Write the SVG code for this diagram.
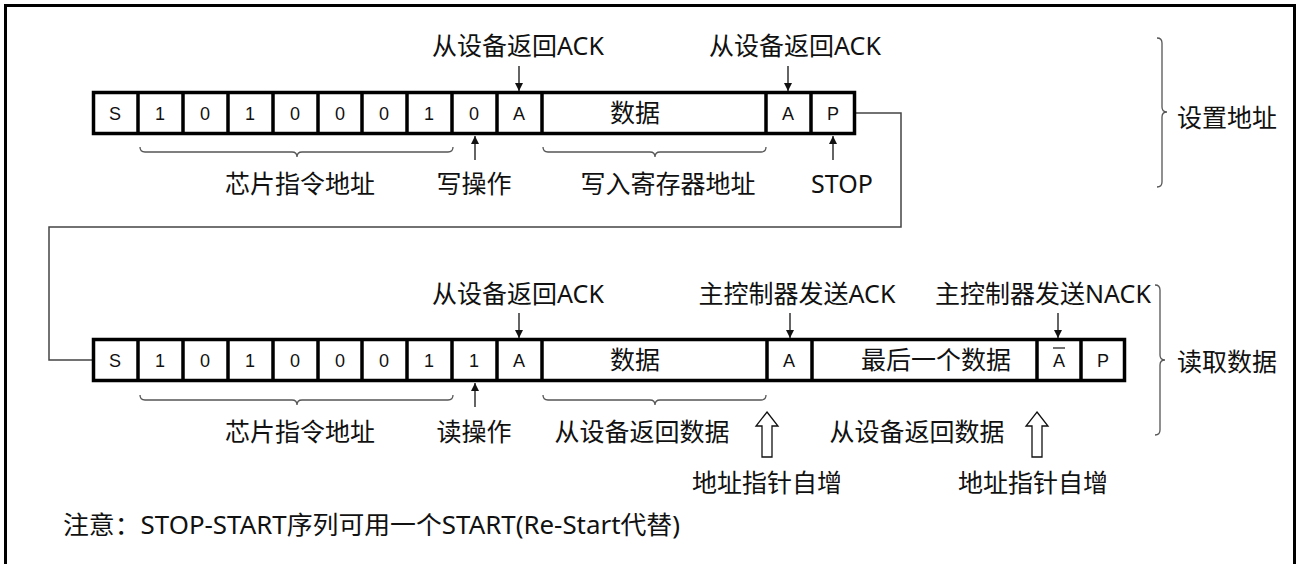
<svg xmlns="http://www.w3.org/2000/svg" width="1298" height="564" viewBox="0 0 1298 564">
<defs>
<marker id="ah" viewBox="0 0 8 10" refX="8" refY="5" markerWidth="8" markerHeight="10" markerUnits="userSpaceOnUse" orient="auto">
<path d="M0,1 L8,5 L0,9 Z" fill="#111"/>
</marker>
</defs>
<style>
.frame{fill:#fff;stroke:#000;stroke-width:3.5}
.sep{stroke:#000;stroke-width:3.5}
.bit{font-family:"Liberation Sans",Arial,sans-serif;font-size:18px;fill:#111;text-anchor:middle}
.lbl{font-family:"Noto Sans","Noto Sans CJK SC",sans-serif;font-size:25px;fill:#111;text-anchor:middle}
.lbl-l{font-family:"Noto Sans","Noto Sans CJK SC",sans-serif;font-size:25px;fill:#111}
.arr{stroke:#111;stroke-width:1.3;fill:none}
.brace{stroke:#555;stroke-width:1.3;fill:none}
.conn{stroke:#444;stroke-width:1.5;fill:none}
.hollow{fill:#fff;stroke:#111;stroke-width:1.3}
</style>
<rect x="5.5" y="5.5" width="1289" height="570" fill="#fff" stroke="#000" stroke-width="3"/>

<g id="connectors">
<polyline class="conn" points="856,113 901,113 901,227 49,227 49,360 92,360"/>
</g>

<g id="row1">
<rect class="frame" x="93.5" y="92.5" width="761" height="41"/>
<path class="sep" d="M138,92V134M183,92V134M228,92V134M273,92V134M318,92V134M362,92V134M407,92V134M452,92V134M497,92V134M542,92V134M766,92V134M811,92V134"/>
<text class="bit" x="115" y="120">S</text>
<text class="bit" x="160" y="120">1</text>
<text class="bit" x="205" y="120">0</text>
<text class="bit" x="250" y="120">1</text>
<text class="bit" x="295" y="120">0</text>
<text class="bit" x="340" y="120">0</text>
<text class="bit" x="384" y="120">0</text>
<text class="bit" x="429" y="120">1</text>
<text class="bit" x="474" y="120">0</text>
<text class="bit" x="519" y="120">A</text>
<text class="lbl" x="635" y="122">数据</text>
<text class="bit" x="788" y="120">A</text>
<text class="bit" x="833" y="120">P</text>
</g>

<g id="row1-labels">
<text class="lbl" x="518" y="55">从设备返回ACK</text>
<line class="arr" x1="519" y1="66" x2="519" y2="91" marker-end="url(#ah)"/>
<text class="lbl" x="795" y="55">从设备返回ACK</text>
<line class="arr" x1="788" y1="66" x2="788" y2="91" marker-end="url(#ah)"/>
<path class="brace" d="M140,147 Q140,152 145,152 L292,152 Q297,152 297,157 Q297,152 302,152 L448,152 Q453,152 453,147"/>
<path class="brace" d="M543,147 Q543,152 548,152 L650,152 Q655,152 655,157 Q655,152 660,152 L761,152 Q766,152 766,147"/>
<line class="arr" x1="475" y1="160" x2="475" y2="136" marker-end="url(#ah)"/>
<line class="arr" x1="833" y1="160" x2="833" y2="136" marker-end="url(#ah)"/>
<text class="lbl" x="300" y="193">芯片指令地址</text>
<text class="lbl" x="474" y="193">写操作</text>
<text class="lbl" x="668" y="193">写入寄存器地址</text>
<text class="lbl" x="842" y="193">STOP</text>
</g>

<g id="group-set-address">
<path class="brace" d="M1157,38 Q1162,38 1162,43 L1162,107 Q1162,112 1167,112 Q1162,112 1162,117 L1162,182 Q1162,187 1157,187"/>
<text class="lbl-l" x="1177" y="127">设置地址</text>
</g>

<g id="row2">
<rect class="frame" x="93.5" y="339.5" width="1031" height="41"/>
<path class="sep" d="M138,339V381M183,339V381M228,339V381M273,339V381M318,339V381M362,339V381M407,339V381M452,339V381M497,339V381M542,339V381M767,339V381M812,339V381M1037,339V381M1081,339V381"/>
<text class="bit" x="115" y="367">S</text>
<text class="bit" x="160" y="367">1</text>
<text class="bit" x="205" y="367">0</text>
<text class="bit" x="250" y="367">1</text>
<text class="bit" x="295" y="367">0</text>
<text class="bit" x="340" y="367">0</text>
<text class="bit" x="384" y="367">0</text>
<text class="bit" x="429" y="367">1</text>
<text class="bit" x="474" y="367">1</text>
<text class="bit" x="519" y="367">A</text>
<text class="lbl" x="635" y="369">数据</text>
<text class="bit" x="789" y="367">A</text>
<text class="lbl" x="936" y="369">最后一个数据</text>
<text class="bit" x="1059" y="367">A</text>
<line x1="1053" y1="348" x2="1065" y2="348" stroke="#111" stroke-width="1.2"/>
<text class="bit" x="1103" y="367">P</text>
</g>

<g id="row2-labels">
<text class="lbl" x="518" y="303">从设备返回ACK</text>
<line class="arr" x1="519" y1="313" x2="519" y2="338" marker-end="url(#ah)"/>
<text class="lbl" x="797" y="303">主控制器发送ACK</text>
<line class="arr" x1="790" y1="313" x2="790" y2="338" marker-end="url(#ah)"/>
<text class="lbl" x="1043" y="303">主控制器发送NACK</text>
<line class="arr" x1="1058" y1="313" x2="1058" y2="338" marker-end="url(#ah)"/>
<path class="brace" d="M140,395 Q140,400 145,400 L292,400 Q297,400 297,405 Q297,400 302,400 L448,400 Q453,400 453,395"/>
<path class="brace" d="M543,395 Q543,400 548,400 L650,400 Q655,400 655,405 Q655,400 660,400 L761,400 Q766,400 766,395"/>
<line class="arr" x1="475" y1="407" x2="475" y2="383" marker-end="url(#ah)"/>
<text class="lbl" x="300" y="441">芯片指令地址</text>
<text class="lbl" x="474" y="441">读操作</text>
<text class="lbl" x="642" y="441">从设备返回数据</text>
<text class="lbl" x="917" y="441">从设备返回数据</text>
<polygon class="hollow" points="767,412 778,426 772,426 772,457 762,457 762,426 756,426"/>
<polygon class="hollow" points="1037,412 1048,426 1042,426 1042,457 1032,457 1032,426 1026,426"/>
<text class="lbl" x="767" y="492">地址指针自增</text>
<text class="lbl" x="1033" y="492">地址指针自增</text>
</g>

<g id="group-read-data">
<path class="brace" d="M1155,285 Q1160,285 1160,290 L1160,355 Q1160,360 1165,360 Q1160,360 1160,365 L1160,430 Q1160,435 1155,435"/>
<text class="lbl-l" x="1177" y="371">读取数据</text>
</g>

<g id="note">
<text class="lbl-l" x="63" y="534" textLength="617" lengthAdjust="spacingAndGlyphs">注意：STOP-START序列可用一个START(Re-Start代替)</text>
</g>
</svg>
